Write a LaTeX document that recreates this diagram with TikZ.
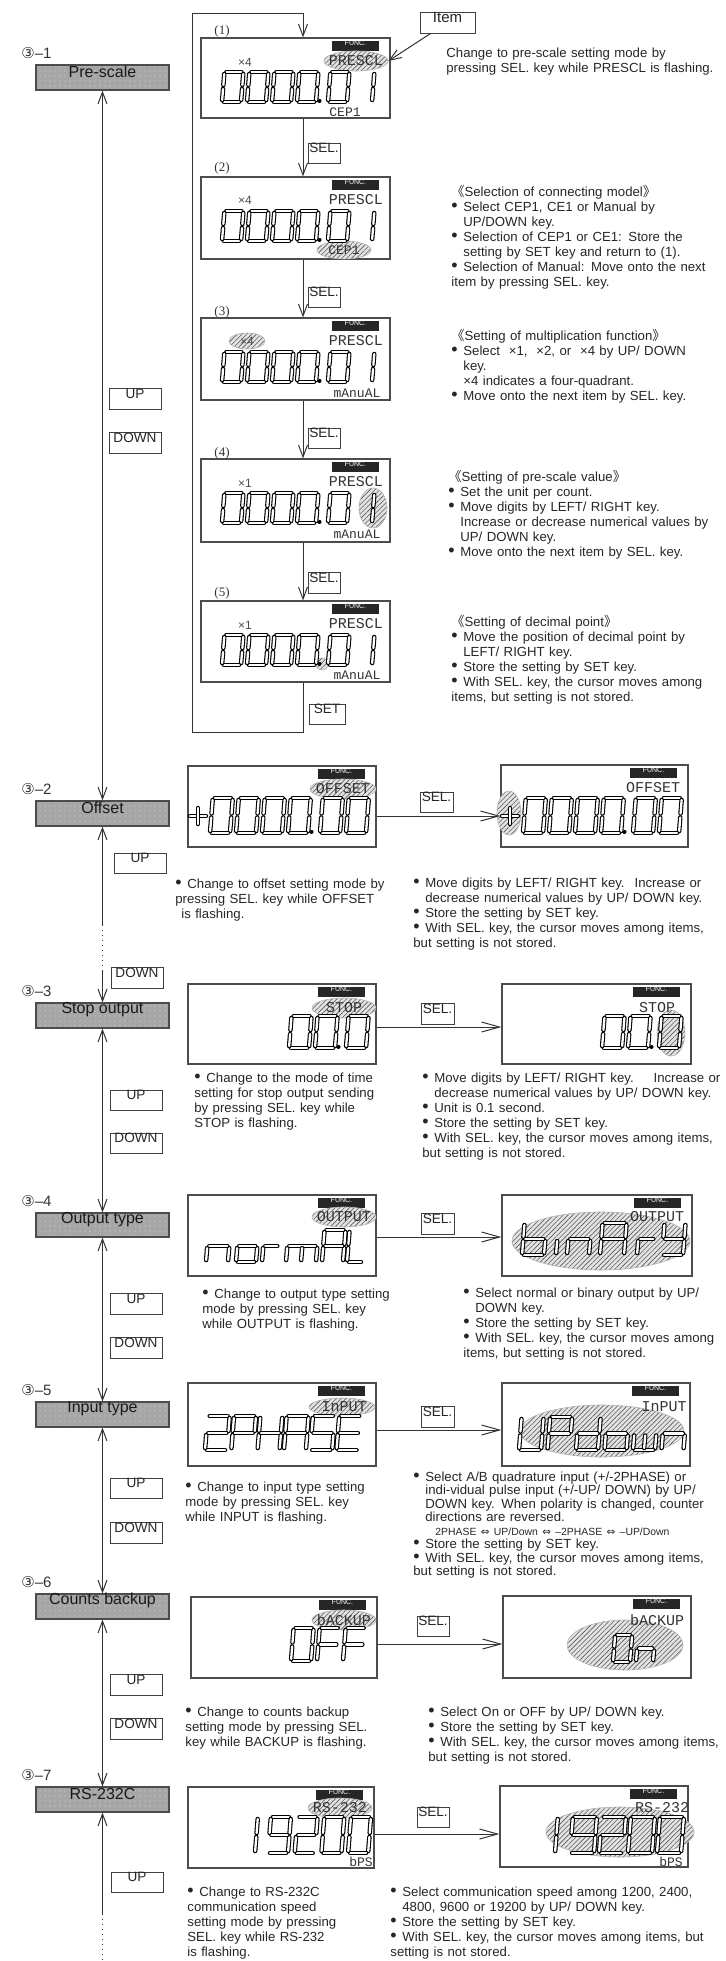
\documentclass[tikz,border=0pt]{standalone}
\usepackage{fontspec}
\setmainfont{Liberation Sans}
\newfontfamily\monof{Liberation Mono}
\newfontfamily\seriff{Liberation Serif}
\newfontfamily\djv{DejaVu Sans}
\newfontfamily\cjkf{Noto Sans CJK SC}
\usetikzlibrary{arrows.meta,patterns.meta,shapes.geometric,fit}

\makeatletter
\newcommand\segif[2]{\edef\seg@tmp{\noexpand\in@{#1}{\seg@cur}}\seg@tmp\ifin@#2\fi}
\newcommand\dg[5]{%
  \edef\seg@cur{#5}%
  \begin{scope}[shift={(#1,#2)},xslant=0.08]
    \pgfmathsetmacro\sgW{#3}\pgfmathsetmacro\sgH{#4}%
    \pgfmathsetmacro\sgWg{\sgW-2}\pgfmathsetmacro\sgHh{\sgH/2}%
    \pgfmathsetmacro\sgWm{\sgW/2}%
    \segif{a}{\draw[seg] (2,-\sgH) -- (\sgWg,-\sgH);}%
    \segif{b}{\draw[seg] (\sgW,-\sgH+2) -- (\sgW,-\sgHh-2);}%
    \segif{c}{\draw[seg] (\sgW,-\sgHh+2) -- (\sgW,-2);}%
    \segif{d}{\draw[seg] (2,0) -- (\sgWg,0);}%
    \segif{e}{\draw[seg] (0,-2) -- (0,-\sgHh+2);}%
    \segif{f}{\draw[seg] (0,-\sgHh-2) -- (0,-\sgH+2);}%
    \segif{g}{\draw[seg] (2,-\sgHh) -- (\sgWg,-\sgHh);}%
    \segif{h}{\draw[seg] (\sgWm,-\sgHh+2) -- (\sgWm,-2);}%
    \segif{p}{\fill[black] (\sgW+3.5,-1) circle[radius=2];}%
  \end{scope}}
\makeatother
\newcommand\dgrow[6]{\foreach \dgs [count=\dgi from 0] in {#6}{\dg{#1+\dgi*#5}{#2}{#3}{#4}{\dgs}}}
\newcommand\pnum[1]{\dg{222}{#1}{19}{30}{abcdef}\dg{247}{#1}{19}{30}{abcdef}\dg{272}{#1}{19}{30}{abcdef}\dg{297}{#1}{19}{30}{abcdefp}\dg{328}{#1}{19}{30}{abcdef}\dg{353}{#1}{19}{30}{bc}}
\newcommand\lcd[5]{\node[lcdbox,fit={(#2,#3)(#4,#5)}] (#1) {};
  \node[funcbox,fit={(#4-58,#3+3)(#4-11,#3+13)}] (#1f) {FUNC.};}
\newcommand\bulsym{{\fontsize{9}{9}\selectfont\textbullet}}
\newcommand\bul{\par\hangindent=6pt\hangafter=1\noindent\makebox[6pt][l]{\bulsym}}
\newcommand\bulf{\hangindent=6pt\hangafter=1\noindent\makebox[6pt][l]{\bulsym}}
\newcommand\hdr[1]{{\cjkf 《}#1{\cjkf 》}}
\newcommand\jl[1]{\makebox[149pt][s]{#1}}

\begin{document}
\begin{tikzpicture}[x=0.5pt,y=-0.5pt,
 >={Straight Barb[length=6pt,width=4.5pt]},
 conn/.style={draw=black!80,line width=0.5pt},
 harr/.style={conn,-{Straight Barb[length=9pt,width=5pt]}},
 seg/.style={draw=black,double=white,line width=0.55pt,double distance=1.15pt,line cap=round},
 lcdbox/.style={draw=black!70,line width=0.6pt,fill=white,inner sep=0},
 funcbox/.style={fill=black!85,inner sep=0,text=white,text height=2.5pt,text depth=0pt,font=\fontsize{3.5}{3.5}\selectfont},
 keybox/.style={draw=black!75,line width=0.5pt,fill=white,inner sep=0,text height=4.9pt,text depth=0pt,font=\fontsize{6.8}{6.8}\selectfont,text=black!85},
 secbox/.style={draw=black!70,line width=0.6pt,preaction={fill=black!35},pattern={Dots[distance=2.5pt,radius=0.3pt]},pattern color=white!70!gray,inner sep=0,text height=5.8pt,text depth=0pt,font=\fontsize{8}{8}\selectfont,text=black!90},
 seclab/.style={anchor=west,inner sep=0,font=\fontsize{7.5}{7.5}\selectfont,text=black!80},
 hatchel/.style={ellipse,draw=gray!60,line width=0.3pt,preaction={fill=gray!22},pattern={Lines[angle=45,distance=1.7pt,line width=0.3pt]},pattern color=gray!70!black,inner sep=0},
 labl/.style={inner sep=0,font=\monof\fontsize{7.5}{7.5}\selectfont,text=black!80},
 labs/.style={inner sep=0,font=\monof\fontsize{6.5}{6.5}\selectfont,text=black!80},
 smallt/.style={inner sep=0,font=\fontsize{6}{6}\selectfont,text=black!70},
 numl/.style={inner sep=0,font=\seriff\fontsize{6.5}{6.5}\selectfont,text=black!80},
 txt/.style={anchor=base west,inner sep=0,text width=#1,align=left,font=\fontsize{6.6}{7.5}\selectfont,text=black!85},
]
\useasboundingbox (0,0) rectangle (726,1961);

% ---------- section boxes ----------
\node[secbox,fit={(36,65)(169,90)}] (s1) {Pre-scale};
\node[secbox,fit={(36,801)(169,826)}] (s2) {Offset};
\node[secbox,fit={(36,1003)(169,1028)}] (s3) {Stop output};
\node[secbox,fit={(36,1213)(169,1237)}] (s4) {Output type};
\node[secbox,fit={(36,1402)(169,1427)}] (s5) {Input type};
\node[secbox,fit={(36,1594)(169,1619)}] (s6) {Counts backup};
\node[secbox,fit={(36,1787)(169,1812)}] (s7) {RS-232C};
\node[seclab] (n1) at (21,53) {{\djv ③}–1};
\node[seclab] (n2) at (21,789) {{\djv ③}–2};
\node[seclab] (n3) at (21,991) {{\djv ③}–3};
\node[seclab] (n4) at (21,1201) {{\djv ③}–4};
\node[seclab] (n5) at (21,1390) {{\djv ③}–5};
\node[seclab] (n6) at (21,1582) {{\djv ③}–6};
\node[seclab] (n7) at (21,1775) {{\djv ③}–7};

% ---------- main flow line ----------
\coordinate (d1) at (102.5,925); \coordinate (d2) at (102.5,970);
\coordinate (d3) at (102.5,1914); \coordinate (d4) at (102.5,1961);
\draw[conn,<->] (s1) -- (s2);
\draw[conn,<-] (s2) -- (d1);
\draw[conn,dotted] (d1) -- (d2);
\draw[conn,->] (d2) -- (s3);
\draw[conn,<->] (s3) -- (s4);
\draw[conn,<->] (s4) -- (s5);
\draw[conn,<->] (s5) -- (s6);
\draw[conn,<->] (s6) -- (s7);
\draw[conn,<-] (s7) -- (d3);
\draw[conn,dotted] (d3) -- (d4);

% ---------- UP / DOWN keys ----------
\node[keybox,fit={(109,388)(161,409)}] (u1) {UP};
\node[keybox,fit={(109,432)(161,453)}] (w1) {DOWN};
\node[keybox,fit={(114,853)(166,873)}] (u2) {UP};
\node[keybox,fit={(111,967)(163,988)}] (w2) {DOWN};
\node[keybox,fit={(110,1090)(162,1110)}] (u3) {UP};
\node[keybox,fit={(110,1133)(162,1153)}] (w3) {DOWN};
\node[keybox,fit={(110,1293)(162,1314)}] (u4) {UP};
\node[keybox,fit={(110,1337)(162,1358)}] (w4) {DOWN};
\node[keybox,fit={(110,1478)(162,1498)}] (u5) {UP};
\node[keybox,fit={(110,1522)(162,1543)}] (w5) {DOWN};
\node[keybox,fit={(110,1674)(162,1695)}] (u6) {UP};
\node[keybox,fit={(110,1718)(162,1739)}] (w6) {DOWN};
\node[keybox,fit={(111,1872)(163,1892)}] (u7) {UP};

% ---------- LCD displays ----------
\lcd{p1}{201}{38}{390}{118}
\lcd{p2}{201}{177}{390}{259}
\lcd{p3}{201}{318}{390}{400}
\lcd{p4}{201}{459}{390}{542}
\lcd{p5}{201}{601}{390}{682}
\lcd{off1}{188}{766}{376}{847}
\lcd{off2}{501}{765}{688}{847}
\lcd{stp1}{188}{984}{376}{1064}
\lcd{stp2}{502}{984}{691}{1064}
\lcd{out1}{188}{1195}{376}{1276}
\lcd{out2}{502}{1195}{692}{1276}
\lcd{inp1}{188}{1383}{376}{1466}
\lcd{inp2}{502}{1383}{690}{1466}
\lcd{cnt1}{191}{1597}{377}{1678}
\lcd{cnt2}{503}{1596}{691}{1678}
\lcd{rs1}{188}{1787}{374}{1868}
\lcd{rs2}{500}{1786}{688}{1867}

% ---------- hatched (flashing) areas ----------
\node[hatchel,minimum width=32pt,minimum height=10pt] (hp1) at (356,61) {};
\node[hatchel,minimum width=27pt,minimum height=9pt] (hp2) at (344,250) {};
\node[hatchel,minimum width=18pt,minimum height=8pt] (hp3) at (247,341) {};
\node[hatchel,minimum width=14pt,minimum height=20pt] (hp4) at (373,508) {};
\node[hatchel,minimum width=6pt,minimum height=6pt] (hp5) at (322,664) {};
\node[hatchel,minimum width=33pt,minimum height=10pt] (ho1) at (343,789) {};
\node[hatchel,minimum width=12pt,minimum height=22pt] (ho2) at (509,813) {};
\node[hatchel,minimum width=32pt,minimum height=10pt] (hs1) at (344,1008) {};
\node[hatchel,minimum width=14pt,minimum height=23pt] (hs2) at (671,1033) {};
\node[hatchel,minimum width=32pt,minimum height=10pt] (hu1) at (344,1217) {};
\node[hatchel,minimum width=89pt,minimum height=29pt] (hu2) at (601,1241) {};
\node[hatchel,minimum width=33pt,minimum height=9pt] (hi1) at (342,1407) {};
\node[hatchel,minimum width=82pt,minimum height=26pt] (hi2) at (602,1431) {};
\node[hatchel,minimum width=32pt,minimum height=10pt] (hc1) at (344,1620) {};
\node[hatchel,minimum width=58pt,minimum height=25pt] (hc2) at (625,1645) {};
\node[hatchel,minimum width=32pt,minimum height=10pt] (hr1) at (340,1808) {};
\node[hatchel,minimum width=74pt,minimum height=25pt] (hr2) at (620,1832) {};

% ---------- 7-segment readings ----------
\pnum{102}\pnum{241}\pnum{382}\pnum{523}\pnum{665}
\draw[seg] (190,816) -- (206,816); \draw[seg] (198,808) -- (198,824);
\dgrow{210}{833}{20}{35}{26}{abcdef,abcdef,abcdef,abcdefp}
\dgrow{320}{833}{20}{35}{26}{abcdef,abcdef}
\draw[seg] (502,816) -- (518,816); \draw[seg] (510,808) -- (510,824);
\dgrow{523}{833}{20}{35}{26}{abcdef,abcdef,abcdef,abcdefp}
\dgrow{633}{833}{20}{35}{26}{abcdef,abcdef}
\dg{289}{1048}{20}{32}{abcdef}\dg{315}{1048}{20}{32}{abcdefp}\dg{346}{1048}{20}{32}{abcdef}
\dg{602}{1048}{20}{32}{abcdef}\dg{628}{1048}{20}{32}{abcdefp}\dg{659}{1048}{20}{32}{abcdef}
\dg{206}{1262}{22}{32}{ceg}\dg{236}{1262}{20}{32}{cdeg}\dg{262}{1262}{16}{32}{eg}\dg{286}{1262}{30}{32}{cegh}\dg{322}{1262}{21}{32}{abcefg}\dg{347}{1262}{16}{32}{def}
\dg{522}{1255}{22}{32}{cdefg}\dg{556}{1255}{4}{32}{e}\dg{567}{1255}{22}{32}{ceg}\dg{600}{1255}{24}{32}{abcefg}\dg{637}{1255}{17}{32}{eg}\dg{662}{1255}{21}{32}{bcdfg}
\dgrow{205}{1450}{22}{34}{26.3}{abdeg,abefg,bcefg,abcefg,acdfg,adefg}
\dgrow{519}{1450}{22}{33}{28.5}{bcdef,abefg,bcdeg,cdeg,cdeh,ceg}
\dgrow{291}{1661}{20}{33}{26}{abcdef,aefg,aefg}
\dgrow{613}{1662}{17}{27}{23}{abcdef,ceg}
\dg{234}{1853}{21}{36}{bc}
\dgrow{268}{1853}{20}{36}{26.7}{abcdfg,abdeg,abcdef,abcdef}
\dg{532}{1853}{23}{36}{bc}
\dgrow{570}{1853}{24}{36}{29}{abcdfg,abdeg,abcdef,abcdef}

% ---------- LCD small labels ----------
\node[labl] (lp1) at (356,61) {PRESCL};
\node[labl] (lp2) at (356,200) {PRESCL};
\node[labl] (lp3) at (356,341) {PRESCL};
\node[labl] (lp4) at (356,482) {PRESCL};
\node[labl] (lp5) at (356,624) {PRESCL};
\node[labs] (bp1) at (345,112) {CEP1};
\node[labs] (bp2) at (344,250) {CEP1};
\node[labs] (bp3) at (357,393) {mAnuAL};
\node[labs] (bp4) at (357,534) {mAnuAL};
\node[labs] (bp5) at (357,675) {mAnuAL};
\node[smallt] (xp1) at (245,62) {×4};
\node[smallt] (xp2) at (245,200) {×4};
\node[smallt] (xp3) at (247,341) {×4};
\node[smallt] (xp4) at (245,483) {×1};
\node[smallt] (xp5) at (245,625) {×1};
\node[numl] (c1) at (222,31) {(1)};
\node[numl] (c2) at (222,168) {(2)};
\node[numl] (c3) at (222,312) {(3)};
\node[numl] (c4) at (222,453) {(4)};
\node[numl] (c5) at (222,593) {(5)};
\node[labl] (lo1) at (343,789) {OFFSET};
\node[labl] (lo2) at (653,788) {OFFSET};
\node[labl] (ls1) at (344,1008) {STOP};
\node[labl] (ls2) at (657,1008) {STOP};
\node[labl] (lu1) at (344,1217) {OUTPUT};
\node[labl] (lu2) at (657,1217) {OUTPUT};
\node[labl] (li1) at (344,1407) {InPUT};
\node[labl] (li2) at (664,1407) {InPUT};
\node[labl] (lc1) at (344,1620) {bACKUP};
\node[labl] (lc2) at (657,1620) {bACKUP};
\node[labl] (lr1) at (340,1808) {RS-232};
\node[labl] (lr2) at (662,1808) {RS-232};
\node[labs] (br1) at (361,1862) {bPS};
\node[labs] (br2) at (671,1862) {bPS};

% ---------- SEL / SET / Item keys ----------
\node[keybox,fit={(308,143)(340,163)}] (k1) {SEL.};
\node[keybox,fit={(308,287)(340,307)}] (k2) {SEL.};
\node[keybox,fit={(308,428)(340,448)}] (k3) {SEL.};
\node[keybox,fit={(308,572)(340,593)}] (k4) {SEL.};
\node[keybox,fit={(309,704)(345,724)}] (kset) {SET};
\node[keybox,fit={(420,792)(453,812)}] (k5) {SEL.};
\node[keybox,fit={(421,1003)(454,1024)}] (k6) {SEL.};
\node[keybox,fit={(421,1213)(454,1234)}] (k7) {SEL.};
\node[keybox,fit={(421,1406)(454,1427)}] (k8) {SEL.};
\node[keybox,fit={(417,1616)(449,1636)}] (k9) {SEL.};
\node[keybox,fit={(417,1807)(449,1827)}] (k10) {SEL.};
\node[keybox,fit={(420,12)(475,33)},text height=5.4pt,font=\fontsize{7.5}{7.5}\selectfont] (item) {Item};
\draw[conn,->] (item) -- (hp1.east);

% ---------- pre-scale chain ----------
\coordinate (ax) at (303,0);
\draw[conn,->] (p1.south -| ax) -- (p2.north -| ax);
\draw[conn,->] (p2.south -| ax) -- (p3.north -| ax);
\draw[conn,->] (p3.south -| ax) -- (p4.north -| ax);
\draw[conn,->] (p4.south -| ax) -- (p5.north -| ax);
\coordinate (lp1c) at (303,732); \coordinate (lp2c) at (192,732);
\coordinate (lp3c) at (192,13); \coordinate (lp4c) at (303,13);
\draw[conn,->] (p5.south -| ax) -- (lp1c) -- (lp2c) -- (lp3c) -- (lp4c) -- (p1.north -| ax);

% ---------- row arrows ----------
\coordinate (ro) at (0,816); \coordinate (rs) at (0,1027); \coordinate (ru) at (0,1237);
\coordinate (ri) at (0,1430); \coordinate (rc) at (0,1644); \coordinate (rr) at (0,1834);
\draw[harr] (off1.east |- ro) -- (off2.west |- ro);
\draw[harr] (stp1.east |- rs) -- (stp2.west |- rs);
\draw[harr] (out1.east |- ru) -- (out2.west |- ru);
\draw[harr] (inp1.east |- ri) -- (inp2.west |- ri);
\draw[harr] (cnt1.east |- rc) -- (cnt2.west |- rc);
\draw[harr] (rs1.east |- rr) -- (rs2.west |- rr);

% ---------- texts ----------
\node[txt=170pt] (tx1) at (446,57) {Change to pre-scale setting mode by\\pressing SEL. key while PRESCL is flashing.};
\node[txt=170pt] (tx2) at (451,196) {\hdr{Selection of connecting model}\bul Select CEP1, CE1 or Manual by\newline UP/DOWN key.\bul Selection of CEP1 or CE1: Store the\newline setting by SET key and return to (1).\bul Selection of Manual: Move onto the next\newline item by pressing SEL. key.};
\node[txt=170pt] (tx3) at (451,340) {\hdr{Setting of multiplication function}\bul Select\ \ ×1,\ \ ×2, or\ \ ×4 by UP/ DOWN\newline key.\newline ×4 indicates a four-quadrant.\bul Move onto the next item by SEL. key.};
\node[txt=170pt] (tx4) at (448,481) {\hdr{Setting of pre-scale value}\bul Set the unit per count.\bul Move digits by LEFT/ RIGHT key.\newline Increase or decrease numerical values by\newline UP/ DOWN key.\bul Move onto the next item by SEL. key.};
\node[txt=170pt] (tx5) at (451,626) {\hdr{Setting of decimal point}\bul Move the position of decimal point by\newline LEFT/ RIGHT key.\bul Store the setting by SET key.\bul With SEL. key, the cursor moves among\newline items, but setting is not stored.};

\node[txt=130pt] (tx6) at (175,888) {\bulf Change to offset setting mode by\newline pressing SEL. key while OFFSET\newline\hspace*{3pt}is flashing.};
\node[txt=170pt] (tx7) at (413,887) {\bulf \makebox[138pt][s]{Move digits by LEFT/ RIGHT key.\hfill Increase or}\newline decrease numerical values by UP/ DOWN key.\bul Store the setting by SET key.\bul With SEL. key, the cursor moves among items,\newline but setting is not stored.};

\node[txt=130pt] (tx8) at (194,1082) {\bulf Change to the mode of time\newline setting for stop output sending\newline by pressing SEL. key while\newline STOP is flashing.};
\node[txt=170pt] (tx9) at (422,1082) {\bulf \makebox[143pt][s]{Move digits by LEFT/ RIGHT key.\hfill Increase or}\newline decrease numerical values by UP/ DOWN key.\bul Unit is 0.1 second.\bul Store the setting by SET key.\bul With SEL. key, the cursor moves among items,\newline but setting is not stored.};

\node[txt=130pt] (tx10) at (202,1298) {\bulf Change to output type setting\newline mode by pressing SEL. key\newline while OUTPUT is flashing.};
\node[txt=170pt] (tx11) at (463,1297) {\bulf Select normal or binary output by UP/\newline DOWN key.\bul Store the setting by SET key.\bul With SEL. key, the cursor moves among\newline items, but setting is not stored.};

\node[txt=130pt] (tx12) at (185,1491) {\bulf Change to input type setting\newline mode by pressing SEL. key\newline while INPUT is flashing.};
\node[txt=170pt,font=\fontsize{6.6}{6.75}\selectfont] (tx13) at (413,1481) {\bulf \jl{Select A/B quadrature input (+/-2PHASE) or}\newline\jl{indi-vidual pulse input (+/-UP/ DOWN) by UP/}\newline\jl{DOWN key. When polarity is changed, counter}\newline directions are reversed.\newline\hspace*{5pt}{\fontsize{5.2}{5.2}\selectfont 2PHASE {\djv ⇔} UP/Down {\djv ⇔} –2PHASE {\djv ⇔} –UP/Down}\bul Store the setting by SET key.\bul With SEL. key, the cursor moves among items,\newline but setting is not stored.};

\node[txt=130pt] (tx14) at (185,1716) {\bulf Change to counts backup\newline setting mode by pressing SEL.\newline key while BACKUP is flashing.};
\node[txt=170pt] (tx15) at (428,1716) {\bulf Select On or OFF by UP/ DOWN key.\bul Store the setting by SET key.\bul With SEL. key, the cursor moves among items,\newline but setting is not stored.};

\node[txt=130pt] (tx16) at (187,1896) {\bulf Change to RS-232C\newline communication speed\newline setting mode by pressing\newline SEL. key while RS-232\newline is flashing.};
\node[txt=170pt] (tx17) at (390,1896) {\bulf Select communication speed among 1200, 2400,\newline 4800, 9600 or 19200 by UP/ DOWN key.\bul Store the setting by SET key.\bul With SEL. key, the cursor moves among items, but\newline setting is not stored.};
\end{tikzpicture}
\end{document}
